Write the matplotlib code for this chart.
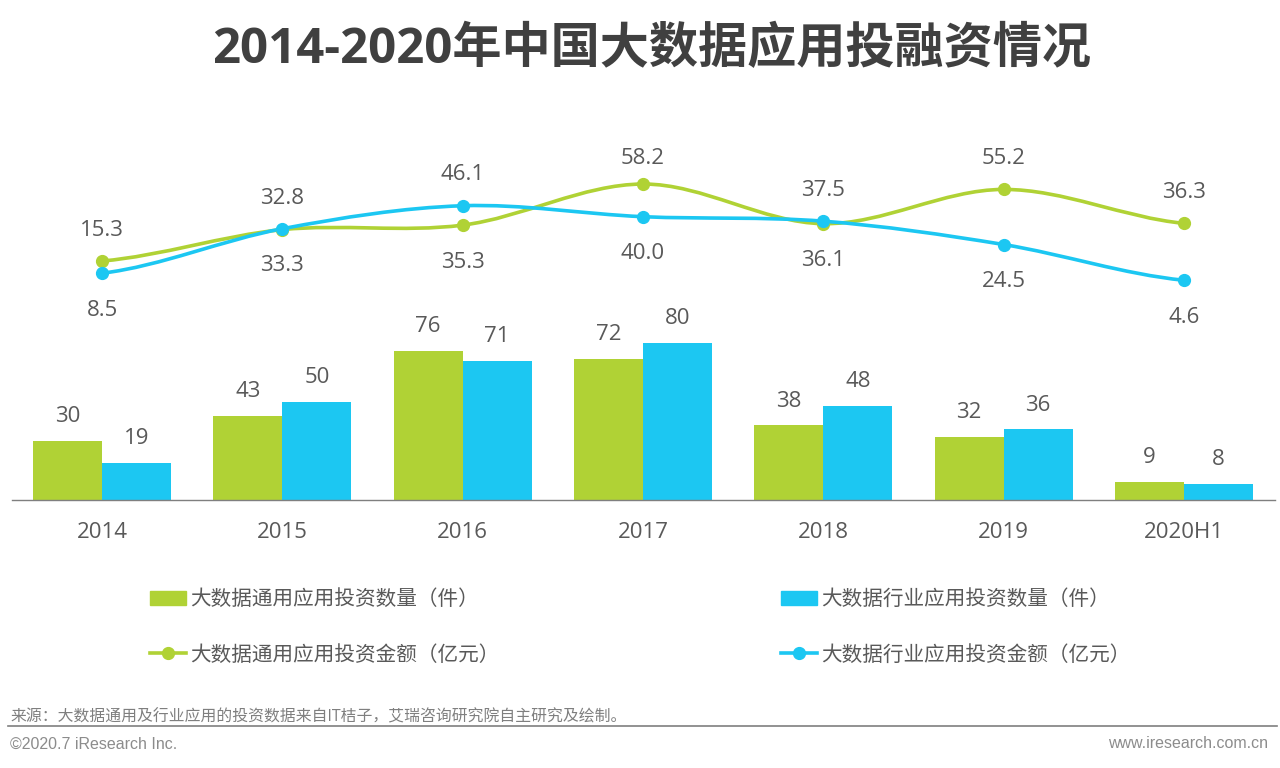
import matplotlib
matplotlib.use("Agg")
import matplotlib.pyplot as plt
import numpy as np
from matplotlib.lines import Line2D
from matplotlib.patches import PathPatch, Patch
from matplotlib.path import Path

plt.rcParams["font.family"] = ["Open Sans", "Noto Sans CJK SC", "DejaVu Sans"]

years = ["2014", "2015", "2016", "2017", "2018", "2019", "2020H1"]
general_count = [30, 43, 76, 72, 38, 32, 9]
industry_count = [19, 50, 71, 80, 48, 36, 8]
general_amount = [15.3, 32.8, 35.3, 58.2, 36.1, 55.2, 36.3]
industry_amount = [8.5, 33.3, 46.1, 40.0, 37.5, 24.5, 4.6]
general_amount_text = ["15.3", "32.8", "35.3", "58.2", "36.1", "55.2", "36.3"]
industry_amount_text = ["8.5", "33.3", "46.1", "40.0", "37.5", "24.5", "4.6"]
# label above the point (1) or below it (-1)
general_side = [1, 1, -1, 1, -1, 1, 1]
industry_side = [-1, -1, 1, -1, 1, -1, -1]

GREEN = "#B0D235"
BLUE = "#1CC7F2"
TEXT = "#595959"
W, H = 1280, 768


def smooth_path(x, y, k=0.5):
    """Cardinal spline through the points, as a bezier path."""
    x = np.asarray(x, float)
    y = np.asarray(y, float)
    tan = np.zeros_like(y)
    tan[1:-1] = (y[2:] - y[:-2]) * k
    tan[0] = (y[1] - y[0]) * k
    tan[-1] = (y[-1] - y[-2]) * k
    verts = [(x[0], y[0])]
    codes = [Path.MOVETO]
    for i in range(len(x) - 1):
        dx = x[i + 1] - x[i]
        verts += [(x[i] + dx / 3, y[i] + tan[i] / 3),
                  (x[i + 1] - dx / 3, y[i + 1] - tan[i + 1] / 3),
                  (x[i + 1], y[i + 1])]
        codes += [Path.CURVE4] * 3
    return Path(verts, codes)


fig = plt.figure(figsize=(W / 100, H / 100), dpi=100)
ax = fig.add_axes([12 / W, 1 - 500 / H, (1275 - 12) / W, 400 / H])
ax2 = ax.twinx()
ax2.set_position(ax.get_position())

x = np.arange(len(years))
bar_w = 0.383
bars1 = ax.bar(x - bar_w / 2, general_count, bar_w, color=GREEN)
bars2 = ax.bar(x + bar_w / 2, industry_count, bar_w, color=BLUE)
ax.bar_label(bars1, padding=10, fontsize=16, color=TEXT)
ax.bar_label(bars2, padding=10, fontsize=16, color=TEXT)

ax.set_xlim((12 - 102) / 180.33, (1275 - 102) / 180.33)
ax.set_ylim(0, 204)
ax.set_yticks([])
ax.set_xticks(x, years)
ax.tick_params(axis="x", length=0, pad=15.5, labelsize=16, labelcolor=TEXT)
for name in ["top", "left", "right"]:
    ax.spines[name].set_visible(False)
    ax2.spines[name].set_visible(False)
ax.spines["bottom"].set_color("#7F7F7F")
ax.spines["bottom"].set_linewidth(1.0)
ax2.spines["bottom"].set_visible(False)

ax2.set_ylim(-117.8, 105)
ax2.set_yticks([])
for vals, texts, sides, col in [
    (general_amount, general_amount_text, general_side, GREEN),
    (industry_amount, industry_amount_text, industry_side, BLUE),
]:
    ax2.add_patch(PathPatch(smooth_path(x, vals), fc="none", ec=col, lw=2.6, capstyle="round"))
    ax2.plot(x, vals, ls="none", marker="o", ms=8.5, color=col)
    for xi, v, t, s in zip(x, vals, texts, sides):
        # the top peak's label sits closer to its point
        off = s * 24.5 - 2.2 - (3.6 if t == "58.2" else 0)
        ax2.annotate(t, (xi, v), xytext=(0, off), textcoords="offset points",
                     ha="center", va="center", fontsize=16, color=TEXT)

fig.text(652 / W, 1 - 50.5 / H, "2014-2020年中国大数据应用投融资情况", ha="center", va="center",
         fontsize=35.4, fontweight="bold", color="#404040")

handles = [
    Patch(color=GREEN, label="大数据通用应用投资数量（件）"),
    Line2D([], [], color=GREEN, lw=2.6, marker="o", ms=8.5, label="大数据通用应用投资金额（亿元）"),
    Patch(color=BLUE, label="大数据行业应用投资数量（件）"),
    Line2D([], [], color=BLUE, lw=2.6, marker="o", ms=8.5, label="大数据行业应用投资金额（亿元）"),
]
fig.legend(handles=handles, ncol=2, loc="upper left", bbox_to_anchor=(150 / W, 1 - 589 / H),
           bbox_transform=fig.transFigure, frameon=False, borderpad=0, borderaxespad=0,
           fontsize=14.85, labelcolor=TEXT, handlelength=1.75, handleheight=0.7, handletextpad=0.18,
           columnspacing=13.66, labelspacing=1.68)

fig.text(10 / W, 1 - 717 / H, "来源：大数据通用及行业应用的投资数据来自IT桔子，艾瑞咨询研究院自主研究及绘制。",
         ha="left", va="center", fontsize=11.4, color="#7F7F7F")
fig.add_artist(Line2D([8 / W, 1277 / W], [1 - 726 / H, 1 - 726 / H], color="#7F7F7F", lw=1.2))
fig.text(10 / W, 1 - 744 / H, "©2020.7 iResearch Inc.", ha="left", va="center",
         fontsize=11.5, color="#8C8C8C", family="Liberation Sans")
fig.text(1268 / W, 1 - 744 / H, "www.iresearch.com.cn", ha="right", va="center",
         fontsize=11.5, color="#8C8C8C", family="Liberation Sans")

fig.savefig("out.png", dpi=100)
